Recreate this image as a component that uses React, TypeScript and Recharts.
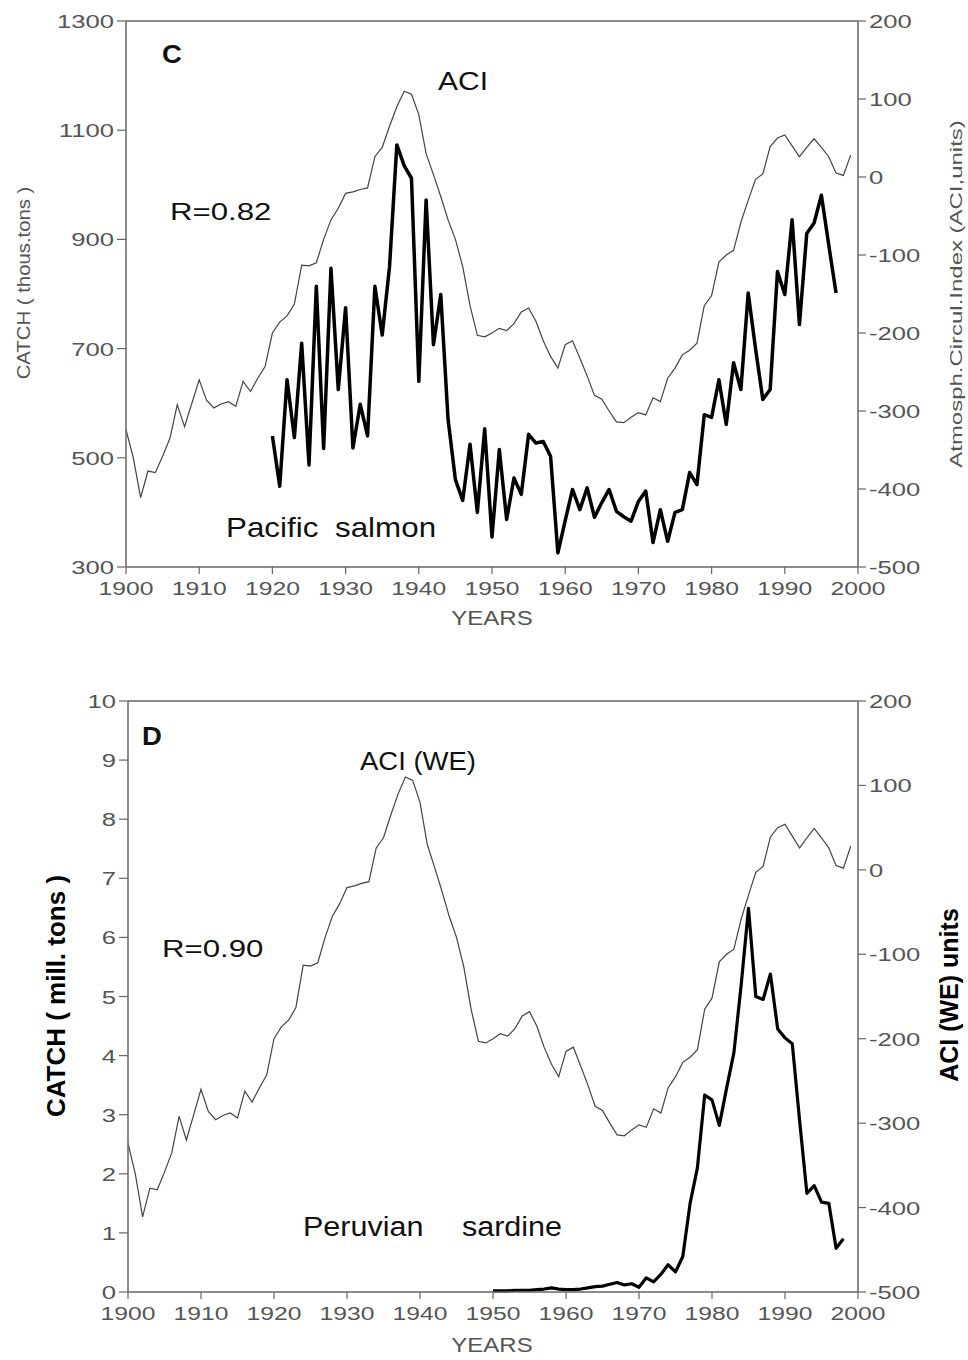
import React from 'react';
import { LineChart, Line, XAxis, YAxis, ReferenceLine } from 'recharts';

// ACI (atmospheric circulation index), one value per year from 1900
const aciStart = 1900;
const aci = [
  -324, -360, -411, -377, -379, -358, -335, -292, -320, -290,
  -260, -286, -296, -291, -288, -294, -262, -275, -258, -243,
  -200, -186, -178, -163, -113, -114, -110, -80, -55, -40,
  -21, -19, -16, -14, 26, 38, 65, 90, 110, 106,
  80, 30, 3, -25, -55, -80, -115, -165, -203, -205,
  -200, -194, -197, -188, -173, -168, -185, -210, -230, -245,
  -215, -210, -232, -255, -280, -285, -300, -314, -315, -308,
  -302, -305, -283, -288, -258, -245, -228, -222, -213, -165,
  -152, -109, -100, -94, -58, -30, -3, 4, 39, 50,
  54, 40, 26, 38, 49, 38, 26, 5, 2, 28,
];

// Pacific salmon catch, thous. tons, from 1920
const salmonStart = 1920;
const salmon = [
  540, 448, 643, 537, 710, 487, 814, 517, 847, 625,
  775, 518, 598, 540, 814, 725, 850, 1073, 1035, 1012,
  640, 972, 707, 799, 570, 460, 422, 525, 400, 553,
  355, 515, 387, 463, 433, 543, 527, 530, 503, 326,
  385, 442, 405, 445, 391, 418, 442, 402, 392, 384,
  420, 439, 345, 405, 347, 400, 405, 473, 451, 579,
  574, 643, 561, 674, 625, 802, 700, 607, 625, 841,
  799, 936, 744, 911, 930, 981, 890, 802,
];

// Peruvian sardine catch, mill. tons, from 1950
const sardineStart = 1950;
const sardine = [
  0.02, 0.02, 0.02, 0.03, 0.03, 0.03, 0.04, 0.05, 0.07, 0.05,
  0.04, 0.04, 0.05, 0.07, 0.09, 0.1, 0.13, 0.16, 0.12, 0.14,
  0.08, 0.24, 0.17, 0.3, 0.46, 0.34, 0.6, 1.5, 2.1, 3.33,
  3.25, 2.82, 3.45, 4.05, 5.2, 6.49, 5.0, 4.95, 5.38, 4.45,
  4.3, 4.2, 2.9, 1.67, 1.8, 1.52, 1.5, 0.74, 0.9,
];

const yearTicks = [1900, 1910, 1920, 1930, 1940, 1950, 1960, 1970, 1980, 1990, 2000];
const salmonTicks = [300, 500, 700, 900, 1100, 1300];
const sardineTicks = [0, 1, 2, 3, 4, 5, 6, 7, 8, 9, 10];
const aciTicks = [-500, -400, -300, -200, -100, 0, 100, 200];

const pick = (arr: number[], start: number, year: number) => {
  const i = year - start;
  return i >= 0 && i < arr.length ? arr[i] : null;
};

const dataC = aci.map((v, i) => {
  const year = aciStart + i;
  return { year, aci: v, salmon: pick(salmon, salmonStart, year) };
});

const dataD = aci.map((v, i) => {
  const year = aciStart + i;
  return { year, aci: v, sardine: pick(sardine, sardineStart, year) };
});

const FONT = '"Liberation Sans", Arial, Helvetica, sans-serif';
const AXIS = '#666';
const TICK_TEXT = '#555';

interface WideTextProps {
  x: number;
  y: number;
  sx?: number;
  rotate?: number;
  anchor?: 'start' | 'middle' | 'end';
  size: number;
  weight?: string;
  fill?: string;
  children: React.ReactNode;
}

// text stretched sideways, the scanned figure has very wide glyphs
const WideText = ({ x, y, sx = 1, rotate = 0, anchor = 'start', size, weight = 'normal', fill = '#111', children }: WideTextProps) => (
  <text
    transform={`translate(${x},${y})${rotate ? ` rotate(${rotate})` : ''} scale(${sx},1)`}
    textAnchor={anchor}
    fontFamily={FONT}
    fontSize={size}
    fontWeight={weight}
    fill={fill}
  >
    {children}
  </text>
);

const yTick = (props: any) => (
  <WideText x={props.x} y={props.y + 7} anchor={props.textAnchor} sx={1.35} size={19} fill={TICK_TEXT}>
    {props.payload.value}
  </WideText>
);

const xTick = (props: any) => (
  <WideText x={props.x} y={props.y + 17} anchor="middle" sx={1.3} size={19} fill={TICK_TEXT}>
    {props.payload.value}
  </WideText>
);

const axisLine = { stroke: AXIS, strokeWidth: 1.5 };
const tickLine = { stroke: AXIS, strokeWidth: 1.2 };

const App = () => {
  return (
    <div style={{ position: 'absolute', left: 0, top: 0, width: 968, height: 1360, background: '#fff' }}>
      <div style={{ position: 'absolute', left: 0, top: 0 }}>
        <LineChart width={968} height={640} data={dataC} margin={{ top: 21, right: 30, bottom: 33, left: 40 }}>
          <XAxis
            dataKey="year"
            type="number"
            domain={[1900, 2000]}
            ticks={yearTicks}
            interval={0}
            height={40}
            axisLine={axisLine}
            tickLine={tickLine}
            tickSize={7}
            tickMargin={4}
            tick={xTick}
          />
          <YAxis
            yAxisId="left"
            domain={[300, 1300]}
            ticks={salmonTicks}
            interval={0}
            width={86}
            axisLine={axisLine}
            tickLine={tickLine}
            tickSize={9}
            tickMargin={3}
            tick={yTick}
          />
          <YAxis
            yAxisId="right"
            orientation="right"
            domain={[-500, 200]}
            ticks={aciTicks}
            interval={0}
            width={80}
            axisLine={axisLine}
            tickLine={tickLine}
            tickSize={8}
            tickMargin={3}
            tick={yTick}
          />
          <ReferenceLine yAxisId="left" y={1300} stroke={AXIS} strokeWidth={1.5} />
          <Line
            yAxisId="right"
            dataKey="aci"
            type="linear"
            stroke="#444"
            strokeWidth={1.2}
            dot={false}
            isAnimationActive={false}
          />
          <Line
            yAxisId="left"
            dataKey="salmon"
            type="linear"
            stroke="#000"
            strokeWidth={3.5}
            strokeLinejoin="round"
            dot={false}
            connectNulls={false}
            isAnimationActive={false}
          />
        </LineChart>
      </div>

      <div style={{ position: 'absolute', left: 0, top: 660 }}>
        <LineChart width={968} height={700} data={dataD} margin={{ top: 41, right: 30, bottom: 28, left: 42 }}>
          <XAxis
            dataKey="year"
            type="number"
            domain={[1900, 2000]}
            ticks={yearTicks}
            interval={0}
            height={40}
            axisLine={axisLine}
            tickLine={tickLine}
            tickSize={7}
            tickMargin={4}
            tick={xTick}
          />
          <YAxis
            yAxisId="left"
            domain={[0, 10]}
            ticks={sardineTicks}
            interval={0}
            width={86}
            axisLine={axisLine}
            tickLine={tickLine}
            tickSize={9}
            tickMargin={3}
            tick={yTick}
          />
          <YAxis
            yAxisId="right"
            orientation="right"
            domain={[-500, 200]}
            ticks={aciTicks}
            interval={0}
            width={80}
            axisLine={axisLine}
            tickLine={tickLine}
            tickSize={8}
            tickMargin={3}
            tick={yTick}
          />
          <ReferenceLine yAxisId="left" y={10} stroke={AXIS} strokeWidth={1.5} />
          <Line
            yAxisId="right"
            dataKey="aci"
            type="linear"
            stroke="#444"
            strokeWidth={1.2}
            dot={false}
            isAnimationActive={false}
          />
          <Line
            yAxisId="left"
            dataKey="sardine"
            type="linear"
            stroke="#000"
            strokeWidth={3.2}
            strokeLinejoin="round"
            dot={false}
            connectNulls={false}
            isAnimationActive={false}
          />
        </LineChart>
      </div>

      {/* titles and notes */}
      <svg width={968} height={1360} style={{ position: 'absolute', left: 0, top: 0, pointerEvents: 'none' }}>
        {/* panel C */}
        <WideText x={172} y={63} anchor="middle" sx={1.1} size={25} weight="bold">C</WideText>
        <WideText x={463} y={90} anchor="middle" sx={1.2} size={25}>ACI</WideText>
        <WideText x={170} y={220} sx={1.3} size={24}>R=0.82</WideText>
        <WideText x={226} y={537} sx={1.12} size={28}>Pacific</WideText>
        <WideText x={335} y={537} sx={1.12} size={28}>salmon</WideText>
        <WideText x={492} y={625} anchor="middle" sx={1.2} size={20} fill={TICK_TEXT}>YEARS</WideText>
        <WideText x={30} y={283} anchor="middle" rotate={-90} sx={1.13} size={18} fill={TICK_TEXT}>
          CATCH ( thous.tons )
        </WideText>
        <WideText x={962} y={294} anchor="middle" rotate={-90} sx={1.41} size={17} fill={TICK_TEXT}>
          Atmosph.Circul.Index (ACI,units)
        </WideText>

        {/* panel D */}
        <WideText x={152} y={745} anchor="middle" sx={1.1} size={25} weight="bold">D</WideText>
        <WideText x={418} y={770} anchor="middle" sx={1.1} size={25}>ACI (WE)</WideText>
        <WideText x={162} y={957} sx={1.3} size={24}>R=0.90</WideText>
        <WideText x={303} y={1236} sx={1.09} size={28}>Peruvian</WideText>
        <WideText x={462} y={1236} sx={1.09} size={28}>sardine</WideText>
        <WideText x={492} y={1352} anchor="middle" sx={1.2} size={20} fill={TICK_TEXT}>YEARS</WideText>
        <WideText x={65} y={996} anchor="middle" rotate={-90} size={26} weight="bold" fill="#000">
          CATCH ( mill. tons )
        </WideText>
        <WideText x={958} y={995} anchor="middle" rotate={-90} size={25} weight="bold" fill="#000">
          ACI (WE) units
        </WideText>
      </svg>
    </div>
  );
};

export default App;
